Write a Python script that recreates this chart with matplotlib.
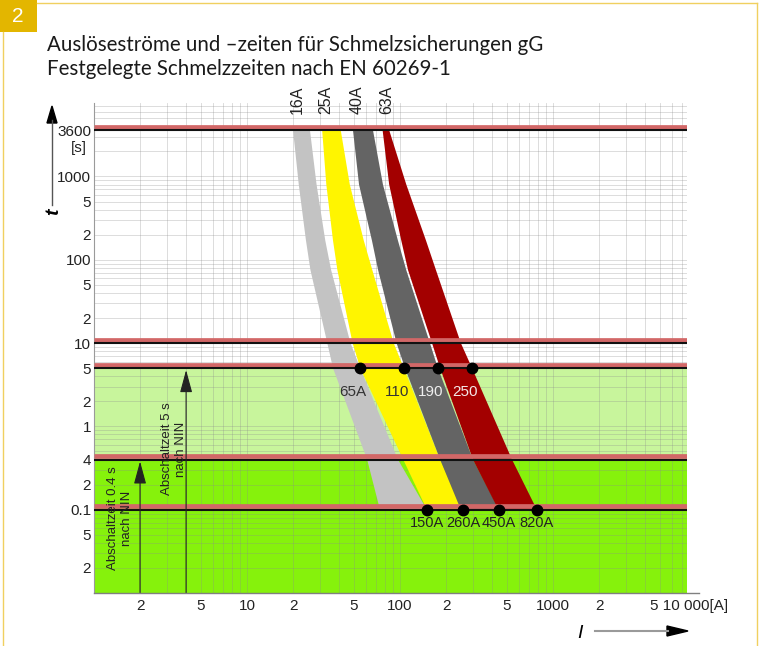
import matplotlib.pyplot as plt
import matplotlib.transforms as mtransforms
from matplotlib.lines import Line2D
from matplotlib.patches import Polygon, Rectangle
from matplotlib.ticker import LogLocator, NullFormatter

plt.rcParams['font.family'] = ['Liberation Sans', 'DejaVu Sans']

# melting time bands, edges at these times in s
times = [3600, 800, 170, 75, 10, 5, 0.4, 0.1]
fuses = ['16A', '25A', '40A', '63A']
band_lo = [
    [20.0, 21.8, 24.3, 26.0, 33.5, 36.5, 61, 74],
    [31.0, 33.0, 36.5, 39.0, 49.0, 55.0, 105, 150],
    [49.3, 54.0, 65.6, 72.0, 95.0, 108, 183, 250],
    [77.0, 85.0, 102, 113, 162, 183, 300, 440],
]
band_hi = [
    [25.8, 28.5, 32.5, 35.5, 47.5, 55.0, 97, 150],
    [41.0, 47.0, 58.0, 66.0, 91.0, 106, 183, 258],
    [66.6, 77.4, 97, 110, 157, 177, 300, 444],
    [85.0, 110, 148, 172, 250, 296, 540, 785],
]
band_colors = ['#c3c3c3', '#fff500', '#646464', '#a30000']

limit_times = [3600, 10, 5, 0.4, 0.1]
labels_5s = ['65A', '110', '190', '250']
labels_5s_colors = ['#333333', '#333333', '#eeeeee', '#f4e8e8']
labels_01s = ['150A', '260A', '450A', '820A']

x_ticks = [2, 5, 10, 20, 50, 100, 200, 500, 1000, 2000]
x_labels = ['2', '5', '10', '2', '5', '100', '2', '5', '1000', '2']
y_ticks = [3600, 1000, 500, 200, 100, 50, 20, 10, 5, 2, 1, 0.4, 0.2, 0.1, 0.05, 0.02]
y_labels = ['3600', '1000', '5', '2', '100', '5', '2', '10', '5', '2', '1', '4', '2', '0.1', '5', '2']

W, H = 764, 646


def px(x, y):
    return x / W, 1 - y / H


fig = plt.figure(figsize=(W / 100, H / 100), dpi=100)
ax = fig.add_axes([94 / W, 1 - 593 / H, 593 / W, 490 / H])
ax.set_xscale('log')
ax.set_yscale('log')
ax.set_xlim(1, 7520)
ax.set_ylim(0.01, 7620)

# green zones for the disconnection times
ax.axhspan(0.4, 5, color='#c8f59c', lw=0, zorder=0.2)
ax.axhspan(0.001, 0.4, color='#86f20c', lw=0, zorder=0.2)

# grid
for axis in (ax.xaxis, ax.yaxis):
    axis.set_minor_locator(LogLocator(base=10, subs=range(1, 10), numticks=50))
    axis.set_minor_formatter(NullFormatter())
ax.grid(which='both', color='#8c8c8c', alpha=0.35, lw=0.6)

# fuse bands
for lo, hi, c in zip(band_lo, band_hi, band_colors):
    ax.fill(lo + hi[::-1], times + times[::-1], color=c, lw=0, zorder=2)

# red / black limit lines
up = mtransforms.ScaledTranslation(0, 2.4 / 72, fig.dpi_scale_trans)
for t in limit_times:
    ax.plot([0, 1], [t, t], transform=ax.get_yaxis_transform() + up,
            color='#d26767', lw=3.4, solid_capstyle='butt', zorder=3)
    ax.plot([0, 1], [t, t], transform=ax.get_yaxis_transform(),
            color='#111111', lw=1.5, solid_capstyle='butt', zorder=3.1)

# markers and labels at 5 s and 0.1 s
i5 = times.index(5)
i01 = times.index(0.1)
for k in range(len(fuses)):
    x5 = band_hi[k][i5]
    x01 = band_hi[k][i01]
    ax.plot(x5, 5, 'o', color='black', ms=7.5, zorder=5)
    ax.plot(x01, 0.1, 'o', color='black', ms=7.5, zorder=5)
    ax.text(x5 * 0.9, 2.6, labels_5s[k], ha='center', va='center',
            fontsize=11, color=labels_5s_colors[k], zorder=6)
    ax.text(x01, 0.069, labels_01s[k], ha='center', va='center',
            fontsize=10.5, color='#222222', zorder=6)
    ax.text(band_lo[k][0] * 1.06, 0.977, fuses[k], rotation=90,
            transform=ax.get_xaxis_transform(), ha='center', va='bottom',
            fontsize=11.5, color='#222222')

# disconnection time arrows
arrow_kw = dict(arrowstyle='-|>,head_length=1.4,head_width=0.38',
                color='#222222', lw=0.8, shrinkA=0, shrinkB=0)
ax.annotate('', xy=(2, 0.38), xytext=(2, 0.01), arrowprops=arrow_kw, zorder=4)
ax.annotate('', xy=(4, 4.75), xytext=(4, 0.01), arrowprops=arrow_kw, zorder=4)
ax.text(1.48, 0.0795, 'Abschaltzeit 0.4 s\nnach NIN', rotation=90, ha='center',
        va='center', multialignment='center', fontsize=9.5, color='#222222', zorder=6)
ax.text(3.33, 0.536, 'Abschaltzeit 5 s\nnach NIN', rotation=90, ha='center',
        va='center', multialignment='center', fontsize=9.5, color='#222222', zorder=6)

# ticks and axes
ax.set_xticks(x_ticks, x_labels)
ax.set_yticks(y_ticks, y_labels)
ax.tick_params(which='both', length=0, labelsize=11, labelcolor='#222222')
ax.tick_params(axis='x', pad=4)
ax.tick_params(axis='y', pad=2)
for s in ('top', 'right', 'bottom'):
    ax.spines[s].set_visible(False)
ax.spines['left'].set_color('#9a9a9a')
ax.plot([0, 605 / 593], [0, 0], transform=ax.transAxes, color='#808080',
        lw=1, clip_on=False, zorder=5)
down = mtransforms.ScaledTranslation(0, -4 / 72, fig.dpi_scale_trans)
ax.text(4300, 0, '5 10 000[A]', transform=ax.get_xaxis_transform() + down,
        ha='left', va='top', fontsize=11, color='#222222')
ax.text(-0.012, 2200, '[s]', transform=ax.get_yaxis_transform(),
        ha='right', va='center', fontsize=11, color='#222222')

# axis arrows t and I
fig.add_artist(Line2D([px(52, 0)[0]] * 2, [px(0, 205)[1], px(0, 120)[1]],
                      transform=fig.transFigure, color='#555555', lw=1))
fig.add_artist(Polygon([px(47, 123), px(52, 106), px(57, 123)], closed=True,
                       transform=fig.transFigure, color='black'))
fig.text(*px(54, 212), 't', rotation=90, style='italic', weight='bold',
         fontsize=14, ha='center', va='center')
fig.add_artist(Line2D([px(595, 0)[0], px(668, 0)[0]], [px(0, 631)[1]] * 2,
                      transform=fig.transFigure, color='#9a9a9a', lw=1.5))
fig.add_artist(Polygon([px(667, 626), px(688, 631), px(667, 636)], closed=True,
                       transform=fig.transFigure, color='black'))
fig.text(*px(580, 633), 'I', style='italic', fontsize=14, ha='center', va='center')

# header
fig.add_artist(Rectangle(px(0, 32), 37 / W, 32 / H, transform=fig.transFigure,
                         color='#e3b600', lw=0))
fig.text(*px(18, 16), '2', color='white', fontsize=15, ha='center', va='center')
fig.add_artist(Line2D([px(37, 0)[0], px(757, 0)[0]], [px(0, 3)[1]] * 2,
                      transform=fig.transFigure, color='#f0d060', lw=1))
fig.add_artist(Line2D([px(3, 0)[0]] * 2, [px(0, 32)[1], 0],
                      transform=fig.transFigure, color='#f0d060', lw=1))
fig.add_artist(Line2D([px(757, 0)[0]] * 2, [px(0, 3)[1], 0],
                      transform=fig.transFigure, color='#f0d060', lw=1))
fig.text(*px(47, 45), 'Auslöseströme und –zeiten für Schmelzsicherungen gG',
         family='Lato', fontsize=14.8, ha='left', va='center', color='#1a1a1a')
fig.text(*px(47, 69), 'Festgelegte Schmelzzeiten nach EN 60269-1',
         family='Lato', fontsize=14.8, ha='left', va='center', color='#1a1a1a')

fig.savefig('out.png', dpi=100)
